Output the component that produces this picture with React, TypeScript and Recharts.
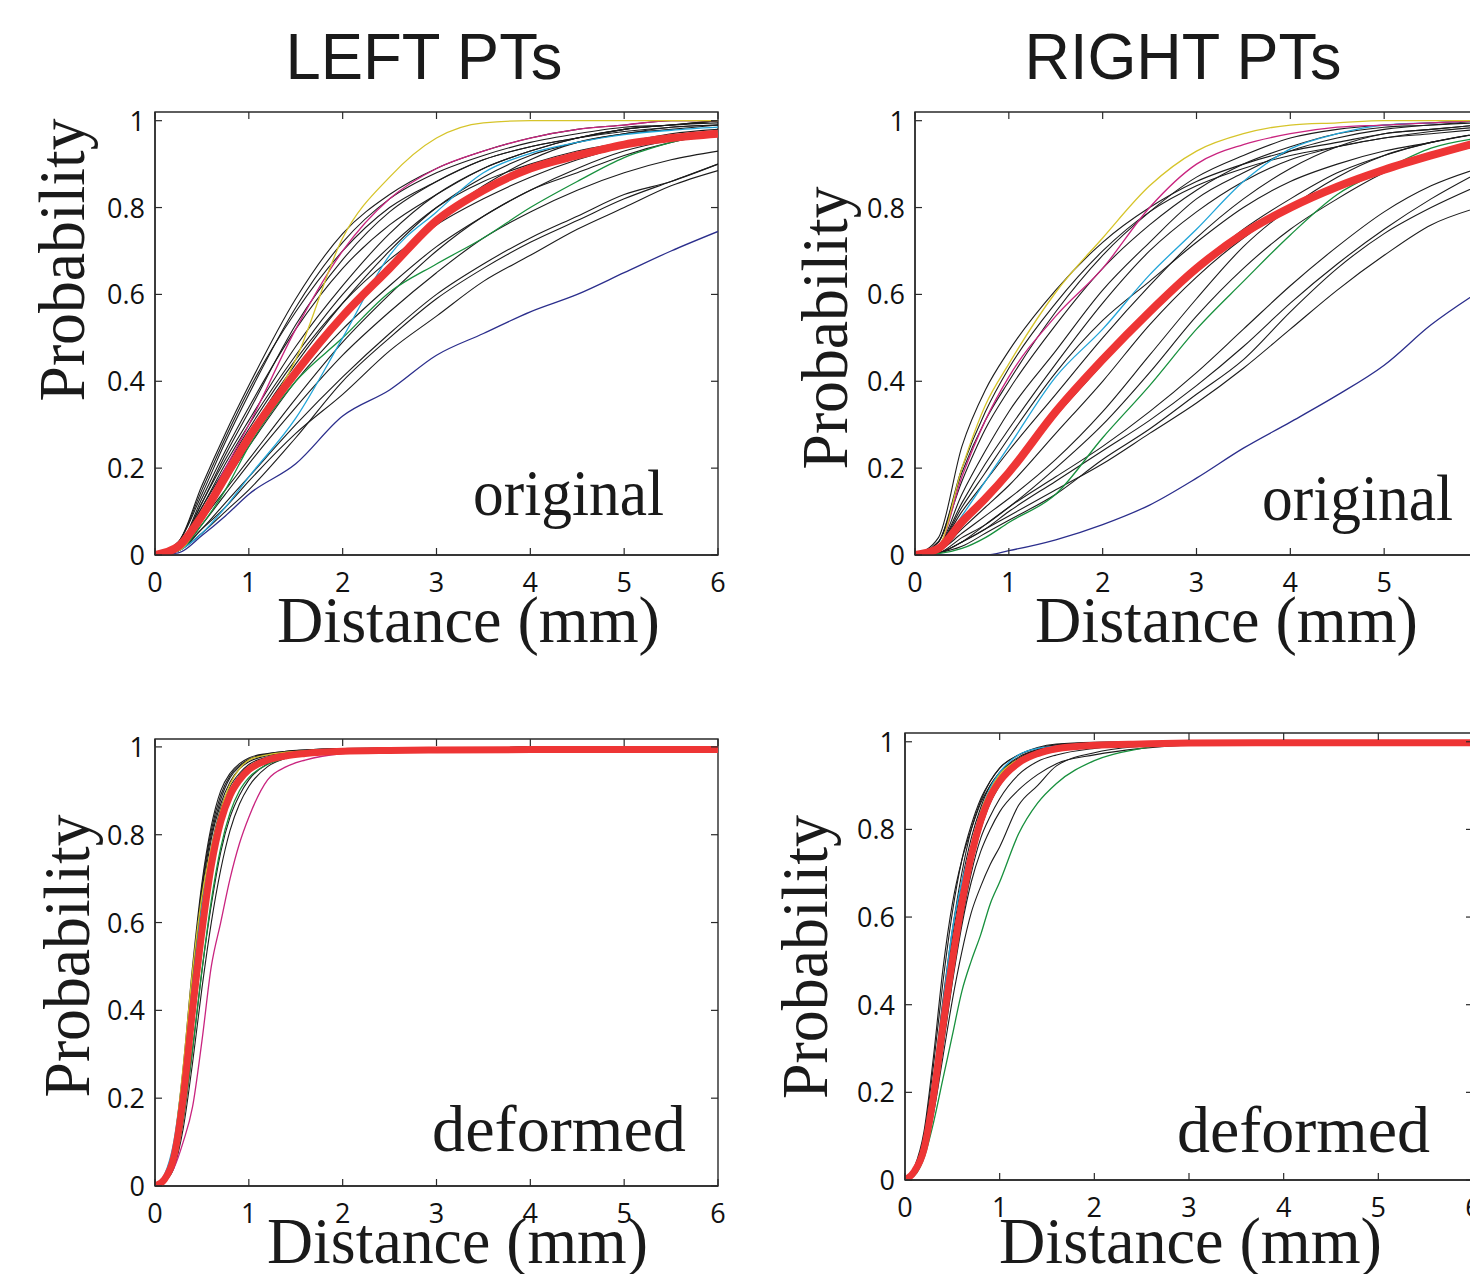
import React from 'react';
import { LineChart, Line, XAxis, YAxis, ReferenceArea } from 'recharts';

// ---------- shared axis data ----------
const xTicks = [0, 1, 2, 3, 4, 5, 6];
const yTicks = [0, 0.2, 0.4, 0.6, 0.8, 1];

// ---------- sample distances ----------
const xsOriginal = [0, 0.25, 0.5, 0.75, 1, 1.5, 2, 2.5, 3, 3.5, 4, 4.5, 5, 5.5, 6];
const xsDeformed = [0, 0.1, 0.2, 0.3, 0.4, 0.5, 0.6, 0.7, 0.8, 0.9, 1, 1.2, 1.4, 1.6, 2, 2.5, 3, 4, 5, 6];

// ---------- LEFT PTs, original ----------
const tlRed = [0, .02, .09, .18, .27, .42, .55, .66, .77, .84, .89, .92, .945, .96, .97];
const tlYellow = [0, .01, .08, .17, .27, .45, .73, .87, .96, .995, 1, 1, 1, 1, 1];
const tlMagenta = [0, .02, .1, .2, .30, .52, .70, .82, .89, .93, .96, .98, .99, 1, 1];
const tlCyan = [0, .01, .05, .11, .18, .315, .50, .69, .79, .88, .925, .95, .968, .978, .985];
const tlGreen = [0, .01, .07, .15, .25, .40, .50, .605, .67, .73, .80, .86, .915, .95, .975];
const tlNavy = [0, .005, .045, .09, .14, .21, .32, .38, .46, .51, .56, .60, .65, .70, .745];
const tlBlack = [
  [0, .03, .16, .28, .39, .59, .74, .83, .89, .93, .96, .98, .99, 1, 1],
  [0, .03, .14, .26, .37, .57, .72, .82, .88, .92, .95, .97, .985, .99, 1],
  [0, .02, .13, .24, .34, .52, .66, .76, .83, .89, .93, .96, .98, .99, .995],
  [0, .02, .12, .22, .31, .48, .62, .74, .83, .89, .93, .96, .98, .99, 1],
  [0, .02, .11, .21, .30, .46, .60, .71, .80, .86, .90, .93, .95, .97, .98],
  [0, .02, .11, .20, .29, .45, .58, .68, .76, .82, .87, .91, .94, .96, .97],
  [0, .02, .10, .19, .28, .44, .58, .70, .80, .87, .92, .95, .97, .98, .99],
  [0, .015, .09, .18, .26, .42, .55, .67, .77, .85, .91, .95, .97, .985, .99],
  [0, .015, .09, .17, .25, .40, .52, .62, .71, .78, .84, .88, .92, .95, .97],
  [0, .01, .08, .15, .22, .36, .49, .60, .70, .78, .84, .89, .93, .955, .97],
  [0, .01, .07, .14, .21, .34, .46, .56, .65, .73, .79, .84, .88, .91, .93],
  [0, .01, .06, .12, .18, .30, .41, .51, .60, .67, .73, .78, .83, .86, .90],
  [0, .01, .06, .11, .17, .28, .37, .47, .55, .63, .69, .75, .80, .85, .885],
  [0, .01, .05, .10, .15, .27, .40, .50, .59, .66, .72, .77, .82, .86, .90],
  [0, .03, .15, .27, .38, .56, .70, .80, .86, .91, .94, .96, .98, .99, 1],
  [0, .02, .12, .23, .33, .53, .68, .79, .86, .91, .94, .96, .975, .985, .99],
];

// ---------- RIGHT PTs, original ----------
const trRed = [0, .015, .076, .13, .19, .33, .45, .56, .66, .74, .80, .848, .887, .92, .95];
const trYellow = [0, .02, .2, .345, .44, .605, .73, .85, .93, .97, .99, .995, 1, 1, 1];
const trMagenta = [0, .02, .18, .31, .41, .55, .66, .8, .9, .945, .97, .985, .99, .995, 1];
const trCyan = [0, .015, .09, .17, .25, .41, .52, .645, .75, .86, .935, .97, .99, .995, 1];
const trGreen = [0, .003, .015, .04, .075, .14, .27, .39, .52, .63, .737, .83, .887, .937, .96];
const trNavy = [0, 0, 0, 0, .01, .035, .07, .115, .177, .246, .306, .368, .437, .53, .605];
const trBlack = [
  [0, .04, .25, .38, .47, .61, .72, .80, .86, .90, .93, .95, .97, .98, .99],
  [0, .03, .19, .31, .40, .56, .69, .79, .87, .92, .96, .98, .99, .995, 1],
  [0, .03, .17, .29, .38, .53, .66, .76, .84, .90, .94, .97, .985, .99, 1],
  [0, .02, .14, .24, .33, .47, .61, .72, .82, .88, .93, .96, .98, .99, .995],
  [0, .02, .12, .21, .29, .44, .58, .70, .79, .86, .91, .94, .96, .975, .985],
  [0, .02, .11, .19, .27, .42, .54, .63, .72, .80, .86, .90, .93, .95, .97],
  [0, .02, .10, .17, .24, .37, .50, .62, .73, .82, .89, .94, .97, .98, .99],
  [0, .01, .07, .13, .19, .32, .44, .56, .66, .75, .82, .88, .92, .95, .97],
  [0, .01, .05, .09, .13, .22, .33, .46, .59, .71, .80, .87, .92, .95, .97],
  [0, .005, .03, .07, .11, .18, .25, .33, .42, .52, .62, .71, .79, .85, .89],
  [0, .005, .03, .06, .10, .17, .24, .31, .39, .48, .58, .67, .75, .82, .88],
  [0, .005, .03, .06, .09, .15, .21, .28, .35, .43, .52, .61, .69, .76, .80],
  [0, .005, .02, .05, .08, .14, .22, .29, .37, .45, .56, .66, .74, .80, .85],
  [0, .01, .06, .11, .16, .28, .40, .53, .64, .73, .80, .85, .89, .92, .94],
  [0, .03, .20, .33, .43, .58, .70, .79, .85, .89, .92, .94, .96, .97, .98],
  [0, .005, .04, .07, .11, .20, .30, .42, .55, .66, .75, .82, .88, .92, .95],
];

// ---------- LEFT PTs, deformed ----------
const blRed = [0, .015, .065, .2, .40, .58, .73, .83, .89, .925, .948, .97, .98, .985, .99, .992, .993, .994, .994, .994];
const blYellow = [0, .02, .09, .27, .49, .66, .77, .855, .915, .95, .97, .982, .988, .991, .994, .996, .997, .998, .998, .998];
const blMagenta = [0, .01, .04, .10, .18, .33, .50, .60, .70, .78, .84, .925, .955, .97, .985, .99, .995, .998, .999, .999];
const blCyan = [0, .025, .1, .26, .46, .64, .76, .84, .89, .925, .95, .97, .98, .986, .99, .993, .995, .997, .998, .998];
const blGreen = [0, .01, .045, .15, .31, .49, .65, .77, .85, .90, .93, .96, .975, .985, .99, .993, .995, .997, .998, .998];
const blNavy = [0, .015, .07, .22, .43, .62, .76, .85, .90, .93, .95, .968, .978, .984, .99, .993, .995, .997, .998, .998];
const blBlack = [
  [0, .02, .09, .27, .50, .69, .82, .90, .94, .962, .975, .985, .99, .993, .996, .997, .998, .999, 1, 1],
  [0, .02, .08, .25, .47, .67, .80, .88, .93, .955, .97, .982, .988, .992, .995, .997, .998, .999, 1, 1],
  [0, .015, .07, .22, .43, .63, .77, .86, .91, .94, .96, .977, .985, .99, .994, .996, .998, .999, 1, 1],
  [0, .015, .06, .20, .40, .60, .75, .84, .90, .935, .955, .975, .984, .989, .993, .996, .998, .999, 1, 1],
  [0, .01, .05, .17, .36, .56, .72, .82, .885, .925, .95, .972, .982, .988, .993, .996, .998, .999, 1, 1],
  [0, .02, .085, .26, .48, .68, .81, .89, .935, .958, .972, .984, .99, .993, .996, .997, .998, .999, 1, 1],
  [0, .01, .06, .19, .39, .59, .74, .84, .90, .935, .955, .974, .983, .988, .992, .995, .997, .999, 1, 1],
  [0, .02, .075, .235, .45, .65, .79, .87, .92, .95, .966, .98, .987, .991, .995, .997, .998, .999, 1, 1],
  [0, .01, .04, .13, .28, .45, .60, .72, .81, .87, .91, .955, .975, .985, .992, .995, .997, .999, 1, 1],
  [0, .01, .045, .15, .31, .49, .64, .76, .84, .89, .925, .962, .978, .987, .993, .996, .998, .999, 1, 1],
];

// ---------- RIGHT PTs, deformed ----------
const brRed = [0, .02, .07, .19, .35, .50, .63, .74, .82, .875, .91, .952, .973, .984, .992, .995, .997, .998, .998, .998];
const brYellow = [0, .015, .06, .17, .33, .49, .63, .75, .84, .89, .925, .96, .978, .988, .994, .996, .998, .999, 1, 1];
const brMagenta = [0, .02, .07, .2, .36, .52, .65, .75, .83, .88, .915, .955, .975, .986, .993, .996, .998, .999, 1, 1];
const brCyan = [0, .02, .08, .22, .40, .57, .68, .76, .84, .895, .93, .97, .985, .99, .995, .997, .998, .999, 1, 1];
const brGreen = [0, .01, .05, .13, .23, .33, .43, .50, .56, .63, .68, .79, .86, .905, .957, .985, .998, 1, 1, 1];
const brNavy = [0, .02, .075, .2, .37, .53, .66, .76, .83, .88, .915, .955, .975, .985, .993, .996, .998, .999, 1, 1];
const brBlack = [
  [0, .03, .11, .28, .48, .63, .73, .80, .86, .90, .93, .962, .982, .993, .998, 1, 1, 1, 1, 1],
  [0, .025, .1, .26, .45, .61, .73, .81, .87, .91, .94, .97, .987, .995, .999, 1, 1, 1, 1, 1],
  [0, .02, .08, .22, .39, .55, .68, .78, .85, .90, .93, .965, .982, .99, .996, .998, .999, 1, 1, 1],
  [0, .02, .075, .2, .36, .52, .65, .76, .84, .89, .925, .962, .98, .989, .995, .998, .999, 1, 1, 1],
  [0, .015, .065, .18, .34, .50, .63, .74, .82, .875, .915, .958, .978, .988, .994, .997, .999, 1, 1, 1],
  [0, .015, .06, .17, .32, .48, .61, .72, .80, .86, .90, .95, .973, .985, .993, .997, .999, 1, 1, 1],
  [0, .02, .07, .19, .35, .51, .64, .75, .83, .885, .92, .96, .98, .99, .996, .998, .999, 1, 1, 1],
  [0, .015, .055, .15, .28, .41, .52, .61, .67, .72, .76, .855, .90, .945, .975, .99, .996, .999, 1, 1],
  [0, .015, .06, .16, .30, .45, .58, .68, .75, .80, .84, .89, .925, .95, .97, .985, .993, .998, 1, 1],
  [0, .015, .06, .17, .31, .46, .59, .70, .78, .83, .87, .925, .955, .97, .985, .993, .997, .999, 1, 1],
  [0, .02, .085, .23, .41, .57, .70, .80, .865, .91, .94, .97, .985, .993, .997, .999, 1, 1, 1, 1],
  [0, .018, .07, .19, .345, .5, .635, .745, .825, .88, .915, .958, .978, .988, .995, .998, .999, 1, 1, 1],
];

// ---------- styling ----------
const COLORS = {
  black: '#1c1c1c',
  navy: '#2b2e8c',
  green: '#17903d',
  cyan: '#22a5d8',
  magenta: '#c9247f',
  yellow: '#d6c42a',
  red: '#ee3535',
};
const AXIS = '#2a2a2a';
const MT = 20;
const MR = 20;
const ML = 110;
const MB = 70;
const TICK_FONT = "'Open Sans', 'Noto Sans', sans-serif";

type Series = { key: string; color: string; width: number; values: number[] };

function buildSeries(black: number[][], navy: number[], green: number[], cyan: number[], magenta: number[], yellow: number[], red: number[], redWidth: number): Series[] {
  const s: Series[] = black.map((v, i) => ({ key: 'k' + i, color: COLORS.black, width: 1.1, values: v }));
  s.push({ key: 'navy', color: COLORS.navy, width: 1.3, values: navy });
  s.push({ key: 'green', color: COLORS.green, width: 1.3, values: green });
  s.push({ key: 'cyan', color: COLORS.cyan, width: 1.3, values: cyan });
  s.push({ key: 'magenta', color: COLORS.magenta, width: 1.3, values: magenta });
  s.push({ key: 'yellow', color: COLORS.yellow, width: 1.3, values: yellow });
  s.push({ key: 'red', color: COLORS.red, width: redWidth, values: red });
  return s;
}

function buildRows(xs: number[], series: Series[]) {
  return xs.map((x, i) => {
    const row: Record<string, number> = { x };
    series.forEach((s) => {
      row[s.key] = s.values[i];
    });
    return row;
  });
}

type PanelProps = {
  plotLeft: number;
  plotTop: number;
  plotW: number;
  plotH: number;
  yMax: number;
  xs: number[];
  series: Series[];
};

function Panel({ plotLeft, plotTop, plotW, plotH, yMax, xs, series }: PanelProps) {
  const W = plotW + ML + MR;
  const H = plotH + MT + MB;
  const rows = buildRows(xs, series);
  const bottom = MT + plotH;

  const xTick = (props: any) => {
    const { x, payload } = props;
    return (
      <g>
        <line x1={x} y1={bottom} x2={x} y2={bottom - 7} stroke={AXIS} strokeWidth={1.2} />
        <line x1={x} y1={MT} x2={x} y2={MT + 7} stroke={AXIS} strokeWidth={1.2} />
        <text x={x} y={bottom + 37} textAnchor="middle" fontFamily={TICK_FONT} fontSize={27} fill="#111">
          {String(payload.value)}
        </text>
      </g>
    );
  };

  const yTick = (props: any) => {
    const { y, payload } = props;
    return (
      <g>
        <line x1={ML} y1={y} x2={ML + 7} y2={y} stroke={AXIS} strokeWidth={1.2} />
        <line x1={ML + plotW} y1={y} x2={ML + plotW - 7} y2={y} stroke={AXIS} strokeWidth={1.2} />
        <text x={ML - 10} y={y + 10} textAnchor="end" fontFamily={TICK_FONT} fontSize={27} fill="#111">
          {String(payload.value)}
        </text>
      </g>
    );
  };

  return (
    <div style={{ position: 'absolute', left: plotLeft - ML, top: plotTop - MT }}>
      <LineChart width={W} height={H} data={rows} margin={{ top: MT, right: MR, bottom: 0, left: 0 }}>
        <XAxis
          type="number"
          dataKey="x"
          domain={[0, 6]}
          ticks={xTicks}
          interval={0}
          height={MB}
          tickSize={0}
          tickMargin={0}
          allowDataOverflow
          axisLine={{ stroke: AXIS, strokeWidth: 1.4 }}
          tickLine={false}
          tick={xTick}
        />
        <YAxis
          type="number"
          domain={[0, yMax]}
          ticks={yTicks}
          interval={0}
          width={ML}
          tickSize={0}
          tickMargin={0}
          allowDataOverflow
          axisLine={{ stroke: AXIS, strokeWidth: 1.4 }}
          tickLine={false}
          tick={yTick}
        />
        <ReferenceArea x1={0} x2={6} y1={0} y2={yMax} fill="none" fillOpacity={0} stroke={AXIS} strokeWidth={1.4} />
        {series.map((s) => (
          <Line
            key={s.key}
            dataKey={s.key}
            type="monotone"
            stroke={s.color}
            strokeWidth={s.width}
            dot={false}
            activeDot={false}
            isAnimationActive={false}
          />
        ))}
      </LineChart>
    </div>
  );
}

const SERIF = "'Liberation Serif', 'Times New Roman', serif";
const SANS = "'Liberation Sans', Arial, sans-serif";

function VLabel({ x, cy, len }: { x: number; cy: number; len: number }) {
  return (
    <text
      x={0}
      y={0}
      transform={`translate(${x},${cy}) rotate(-90)`}
      textAnchor="middle"
      fontFamily={SERIF}
      fontSize={65}
      fill="#1a1a1a"
      textLength={len}
      lengthAdjust="spacingAndGlyphs"
    >
      Probability
    </text>
  );
}

function HText({ x, y, len, size, family, children, anchor = 'start' }: any) {
  return (
    <text x={x} y={y} textAnchor={anchor} fontFamily={family} fontSize={size} fill="#1a1a1a" textLength={len} lengthAdjust="spacingAndGlyphs">
      {children}
    </text>
  );
}

export default function App() {
  const tl = buildSeries(tlBlack, tlNavy, tlGreen, tlCyan, tlMagenta, tlYellow, tlRed, 8);
  const tr = buildSeries(trBlack, trNavy, trGreen, trCyan, trMagenta, trYellow, trRed, 8);
  const bl = buildSeries(blBlack, blNavy, blGreen, blCyan, blMagenta, blYellow, blRed, 7);
  const br = buildSeries(brBlack, brNavy, brGreen, brCyan, brMagenta, brYellow, brRed, 7);

  return (
    <div style={{ position: 'absolute', left: 0, top: 0, width: 1470, height: 1274, overflow: 'hidden', background: '#fff' }}>
      <Panel plotLeft={155} plotTop={112} plotW={563} plotH={443} yMax={1.02} xs={xsOriginal} series={tl} />
      <Panel plotLeft={915} plotTop={112} plotW={563} plotH={443} yMax={1.02} xs={xsOriginal} series={tr} />
      <Panel plotLeft={155} plotTop={739} plotW={563} plotH={447} yMax={1.018} xs={xsDeformed} series={bl} />
      <Panel plotLeft={905} plotTop={733} plotW={568} plotH={447} yMax={1.02} xs={xsDeformed} series={br} />
      <svg width={1470} height={1274} style={{ position: 'absolute', left: 0, top: 0, pointerEvents: 'none' }}>
        <HText x={424} y={79} len={277} size={64} family={SANS} anchor="middle">LEFT PTs</HText>
        <HText x={1183} y={79} len={317} size={64} family={SANS} anchor="middle">RIGHT PTs</HText>

        <HText x={277} y={642} len={383} size={65} family={SERIF}>Distance (mm)</HText>
        <HText x={1035} y={642} len={383} size={65} family={SERIF}>Distance (mm)</HText>
        <HText x={267} y={1263} len={381} size={65} family={SERIF}>Distance (mm)</HText>
        <HText x={999} y={1263} len={383} size={65} family={SERIF}>Distance (mm)</HText>

        <VLabel x={84} cy={260} len={283} />
        <VLabel x={847} cy={328} len={283} />
        <VLabel x={89} cy={956} len={283} />
        <VLabel x={827} cy={957} len={284} />

        <HText x={473} y={515} len={191} size={65} family={SERIF}>original</HText>
        <HText x={1262} y={520} len={191} size={65} family={SERIF}>original</HText>
        <HText x={432} y={1151} len={254} size={65} family={SERIF}>deformed</HText>
        <HText x={1177} y={1152} len={253} size={65} family={SERIF}>deformed</HText>
      </svg>
    </div>
  );
}
